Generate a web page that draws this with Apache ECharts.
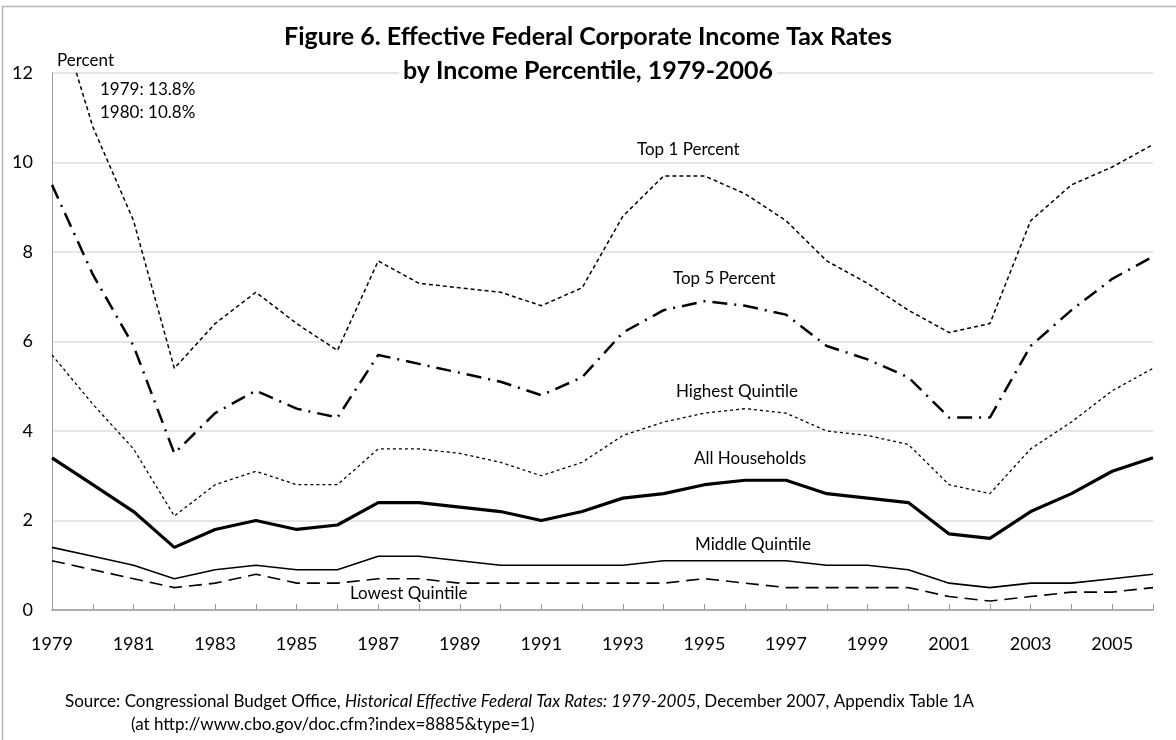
<!DOCTYPE html>
<html>
<head>
<meta charset="utf-8">
<script src="https://cdn.jsdelivr.net/npm/echarts@6/dist/echarts.min.js"></script>
<style>
  html, body { margin: 0; padding: 0; background: #fff; }
  #chart { width: 1176px; height: 740px; }
</style>
</head>
<body>
<div id="chart"></div>
<script>
// years on the x axis
const years = []
for (let y = 1979; y <= 2006; y++) years.push(String(y))

// effective corporate tax rates, percent
const top1 = [13.8, 10.8, 8.7, 5.4, 6.4, 7.1, 6.4, 5.8, 7.8, 7.3, 7.2, 7.1, 6.8, 7.2, 8.8, 9.7, 9.7, 9.3, 8.7, 7.8, 7.3, 6.7, 6.2, 6.4, 8.7, 9.5, 9.9, 10.4]
const top5 = [9.5, 7.5, 5.9, 3.5, 4.4, 4.9, 4.5, 4.3, 5.7, 5.5, 5.3, 5.1, 4.8, 5.2, 6.2, 6.7, 6.9, 6.8, 6.6, 5.9, 5.6, 5.2, 4.3, 4.3, 5.9, 6.7, 7.4, 7.9]
const highestQuintile = [5.7, 4.6, 3.6, 2.1, 2.8, 3.1, 2.8, 2.8, 3.6, 3.6, 3.5, 3.3, 3.0, 3.3, 3.9, 4.2, 4.4, 4.5, 4.4, 4.0, 3.9, 3.7, 2.8, 2.6, 3.6, 4.2, 4.9, 5.4]
const allHouseholds = [3.4, 2.8, 2.2, 1.4, 1.8, 2.0, 1.8, 1.9, 2.4, 2.4, 2.3, 2.2, 2.0, 2.2, 2.5, 2.6, 2.8, 2.9, 2.9, 2.6, 2.5, 2.4, 1.7, 1.6, 2.2, 2.6, 3.1, 3.4]
const middleQuintile = [1.4, 1.2, 1.0, 0.7, 0.9, 1.0, 0.9, 0.9, 1.2, 1.2, 1.1, 1.0, 1.0, 1.0, 1.0, 1.1, 1.1, 1.1, 1.1, 1.0, 1.0, 0.9, 0.6, 0.5, 0.6, 0.6, 0.7, 0.8]
const lowestQuintile = [1.1, 0.9, 0.7, 0.5, 0.6, 0.8, 0.6, 0.6, 0.7, 0.7, 0.6, 0.6, 0.6, 0.6, 0.6, 0.6, 0.7, 0.6, 0.5, 0.5, 0.5, 0.5, 0.3, 0.2, 0.3, 0.4, 0.4, 0.5]

const font = 'Lato, "Open Sans", sans-serif'
const chart = echarts.init(document.getElementById('chart'))

const lineSeries = (name, data, width, dash) => ({
  name,
  type: 'line',
  data,
  symbol: 'none',
  clip: true,
  animation: false,
  lineStyle: { color: '#000', width, type: dash, cap: 'butt' }
})

// text placed on the plot
const note = (text, x, y, size) => ({
  type: 'text',
  left: x,
  top: y,
  z: 10,
  style: { text, font: `${size || 17}px ${font}`, fill: '#000' }
})

const option = {
  backgroundColor: '#fff',
  animation: false,
  grid: { left: 52, right: 23, top: 73, bottom: 130, containLabel: false },
  xAxis: {
    type: 'category',
    data: years,
    boundaryGap: false,
    axisLine: { lineStyle: { color: '#9a9a9a', width: 1.5 } },
    axisTick: { inside: true, length: 6, interval: 0, lineStyle: { color: '#9a9a9a' } },
    axisLabel: { interval: 1, margin: 25, color: '#000', fontSize: 18, fontFamily: font }
  },
  yAxis: {
    type: 'value',
    min: 0,
    max: 12,
    interval: 2,
    axisLine: { show: true, lineStyle: { color: '#9a9a9a', width: 1 } },
    axisTick: { show: false },
    splitLine: { lineStyle: { color: '#dcdcdc', width: 1.5 } },
    axisLabel: { margin: 19, color: '#000', fontSize: 18, fontFamily: font }
  },
  series: [
    lineSeries('Top 1 Percent', top1, 1.5, [4, 3]),
    lineSeries('Top 5 Percent', top5, 2.5, [15, 7, 2, 7]),
    lineSeries('Highest Quintile', highestQuintile, 1.3, [3, 3]),
    lineSeries('All Households', allHouseholds, 3.2, 'solid'),
    lineSeries('Middle Quintile', middleQuintile, 1.6, 'solid'),
    lineSeries('Lowest Quintile', lowestQuintile, 1.6, [13, 7])
  ],
  graphic: [
    {
      type: 'rect',
      shape: { x: 2.5, y: 6.5, width: 1400, height: 900 },
      style: { fill: 'none', stroke: '#b5b5b5', lineWidth: 1.5 },
      silent: true
    },
    {
      type: 'text',
      left: 'center',
      top: 24,
      z: 10,
      style: { text: 'Figure 6. Effective Federal Corporate Income Tax Rates', font: `bold 25px ${font}`, fill: '#000' }
    },
    {
      type: 'text',
      left: 'center',
      top: 58,
      z: 10,
      style: {
        text: 'by Income Percentile, 1979-2006',
        font: `bold 25px ${font}`,
        fill: '#000',
        backgroundColor: '#fff',
        padding: [0, 4]
      }
    },
    note('Percent', 57, 52),
    note('1979: 13.8%', 100, 81),
    note('1980: 10.8%', 100, 104),
    note('Top 1 Percent', 637, 141),
    note('Top 5 Percent', 673, 270),
    note('Highest Quintile', 676, 383),
    note('All Households', 694, 450),
    note('Middle Quintile', 695, 536),
    note('Lowest Quintile', 350, 585),
    {
      type: 'text',
      left: 65,
      top: 693,
      style: {
        text: '{n|Source: Congressional Budget Office, }{i|Historical Effective Federal Tax Rates: 1979-2005}{n|, December 2007, Appendix Table 1A}',
        rich: {
          n: { font: `17px ${font}`, fill: '#000' },
          i: { font: `italic 17px ${font}`, fill: '#000' }
        }
      }
    },
    note('(at http://www.cbo.gov/doc.cfm?index=8885&type=1)', 131, 716, 17)
  ]
}

chart.setOption(option)
</script>
</body>
</html>
